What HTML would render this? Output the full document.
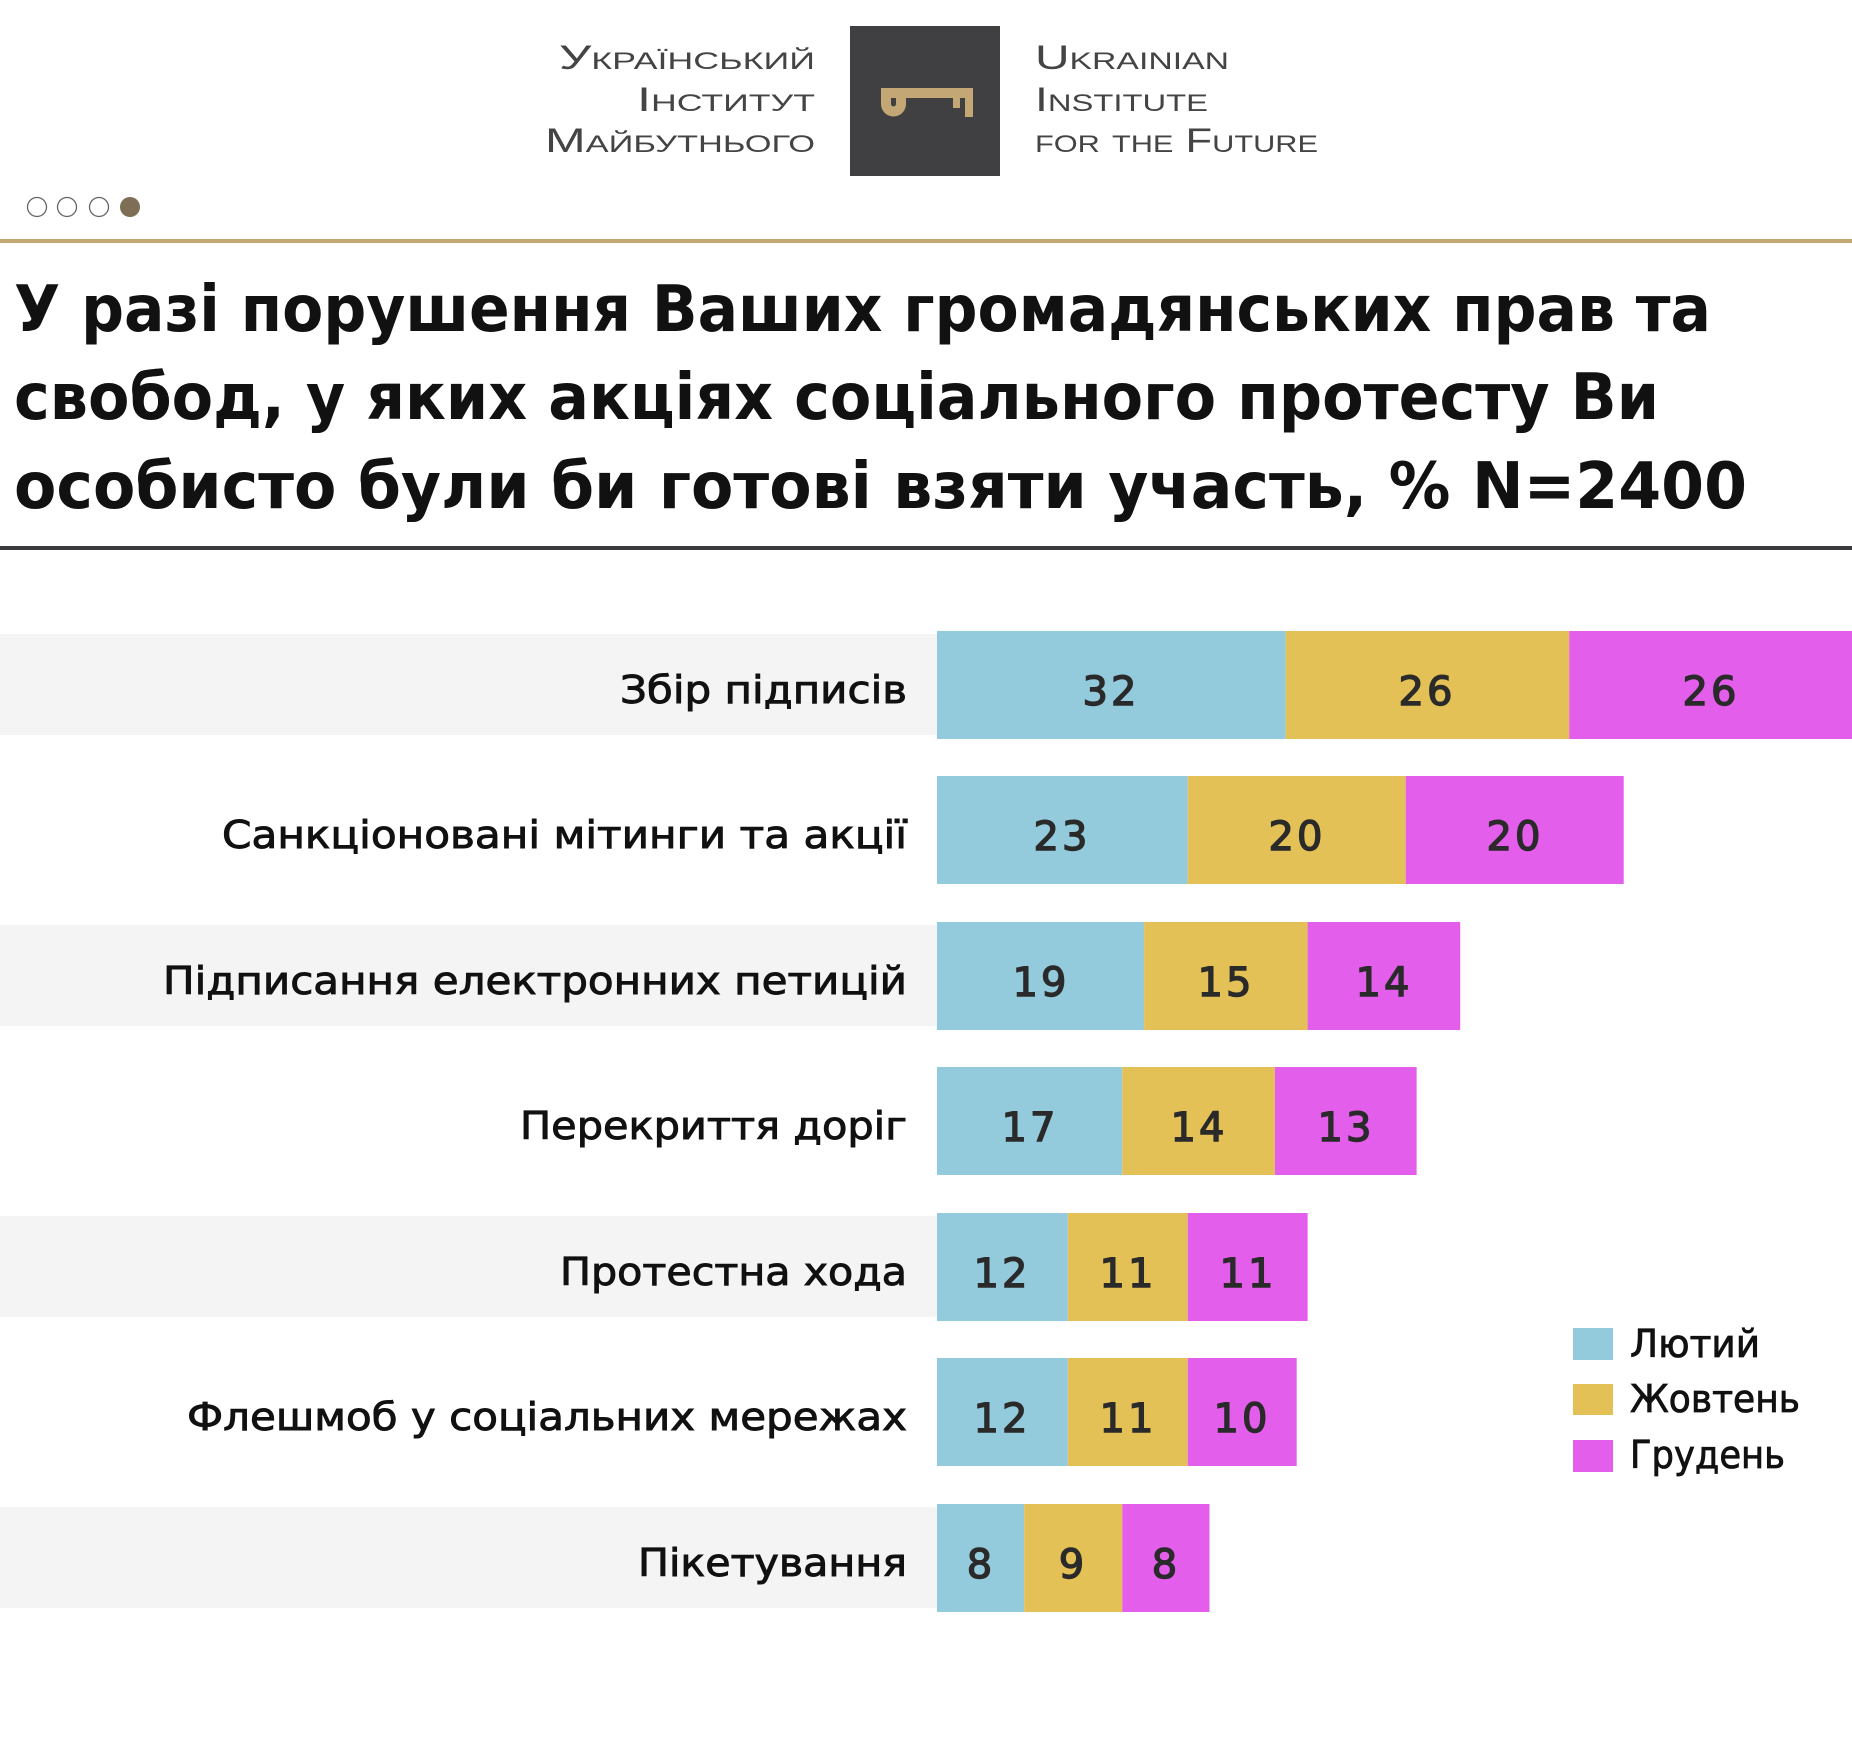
<!DOCTYPE html>
<html><head><meta charset="utf-8"><style>
html,body{margin:0;padding:0;background:#fff;}
svg{display:block;}
.lg{font-family:"Liberation Sans","DejaVu Sans",sans-serif;font-variant:small-caps;fill:#444;font-size:34px;}
.t{font-family:"DejaVu Sans","Liberation Sans",sans-serif;font-weight:bold;font-size:64px;fill:#111;}
.l{font-family:"DejaVu Sans","Liberation Sans",sans-serif;font-size:38px;fill:#111;stroke:#111;stroke-width:0.9px;}
.n{font-family:"DejaVu Sans","Liberation Sans",sans-serif;font-size:40px;fill:#2a2a2a;stroke:#2a2a2a;stroke-width:1.4px;letter-spacing:3px;}
.g{font-family:"DejaVu Sans","Liberation Sans",sans-serif;font-size:38px;fill:#111;stroke:#111;stroke-width:0.8px;}
</style></head><body>
<svg width="1852" height="1739" viewBox="0 0 1852 1739" xmlns="http://www.w3.org/2000/svg">
<rect x="850" y="26" width="150" height="150" fill="#404042"/>
<path d="M881 88 H973 V117 H965 V98 H960 V108 H953 V98 H906 V104 A12.5 12.5 0 0 1 881 104 Z M891 98 V104 A2.5 2.5 0 0 0 896 104 V98 Z" fill="#c3a774" fill-rule="evenodd"/>
<text class="lg" x="815" y="69" text-anchor="end" textLength="256" lengthAdjust="spacingAndGlyphs">Український</text>
<text class="lg" x="815" y="111" text-anchor="end" textLength="178" lengthAdjust="spacingAndGlyphs">Інститут</text>
<text class="lg" x="815" y="152" text-anchor="end" textLength="270" lengthAdjust="spacingAndGlyphs">Майбутнього</text>
<text class="lg" x="1035" y="69" textLength="194" lengthAdjust="spacingAndGlyphs">Ukrainian</text>
<text class="lg" x="1035" y="111" textLength="173" lengthAdjust="spacingAndGlyphs">Institute</text>
<text class="lg" x="1035" y="152" textLength="283" lengthAdjust="spacingAndGlyphs">for the Future</text>
<circle cx="37" cy="207" r="9.5" fill="#fff" stroke="#666" stroke-width="1.3"/>
<circle cx="67" cy="207" r="9.5" fill="#fff" stroke="#666" stroke-width="1.3"/>
<circle cx="99" cy="207" r="9.5" fill="#fff" stroke="#666" stroke-width="1.3"/>
<circle cx="130" cy="207" r="10" fill="#7d6e55"/>
<rect x="0" y="239" width="1852" height="4" fill="#c3a774"/>
<text class="t" x="14" y="331" textLength="1697" lengthAdjust="spacingAndGlyphs">У разі порушення Ваших громадянських прав та</text>
<text class="t" x="14" y="419" textLength="1645" lengthAdjust="spacingAndGlyphs">свобод, у яких акціях соціального протесту Ви</text>
<text class="t" x="14" y="508" textLength="1733" lengthAdjust="spacingAndGlyphs">особисто були би готові взяти участь, % N=2400</text>
<rect x="0" y="546" width="1852" height="4" fill="#3a3a3c"/>
<g>
<rect x="0" y="634" width="937" height="101" fill="#f4f4f4"/>
<rect x="0" y="925" width="937" height="101" fill="#f4f4f4"/>
<rect x="0" y="1216" width="937" height="101" fill="#f4f4f4"/>
<rect x="0" y="1507" width="937" height="101" fill="#f4f4f4"/>
</g>
<g>
<text class="l" x="907" y="703" text-anchor="end" textLength="287" lengthAdjust="spacingAndGlyphs">Збір підписів</text>
<text class="l" x="907" y="848" text-anchor="end" textLength="685" lengthAdjust="spacingAndGlyphs">Санкціоновані мітинги та акції</text>
<text class="l" x="907" y="994" text-anchor="end" textLength="744" lengthAdjust="spacingAndGlyphs">Підписання електронних петицій</text>
<text class="l" x="907" y="1139" text-anchor="end" textLength="387" lengthAdjust="spacingAndGlyphs">Перекриття доріг</text>
<text class="l" x="907" y="1285" text-anchor="end" textLength="347" lengthAdjust="spacingAndGlyphs">Протестна хода</text>
<text class="l" x="907" y="1430" text-anchor="end" textLength="720" lengthAdjust="spacingAndGlyphs">Флешмоб у соціальних мережах</text>
<text class="l" x="907" y="1576" text-anchor="end" textLength="269" lengthAdjust="spacingAndGlyphs">Пікетування</text>
</g>
<g>
<rect x="937" y="631" width="348.8" height="108" fill="#94cbdc"/><rect x="1285.8" y="631" width="283.4" height="108" fill="#e3c157"/><rect x="1569.2" y="631" width="283.4" height="108" fill="#e35eea"/>
<rect x="937" y="776" width="250.7" height="108" fill="#94cbdc"/><rect x="1187.7" y="776" width="218" height="108" fill="#e3c157"/><rect x="1405.7" y="776" width="218" height="108" fill="#e35eea"/>
<rect x="937" y="922" width="207.1" height="108" fill="#94cbdc"/><rect x="1144.1" y="922" width="163.5" height="108" fill="#e3c157"/><rect x="1307.6" y="922" width="152.6" height="108" fill="#e35eea"/>
<rect x="937" y="1067" width="185.3" height="108" fill="#94cbdc"/><rect x="1122.3" y="1067" width="152.6" height="108" fill="#e3c157"/><rect x="1274.9" y="1067" width="141.7" height="108" fill="#e35eea"/>
<rect x="937" y="1213" width="130.8" height="108" fill="#94cbdc"/><rect x="1067.8" y="1213" width="119.9" height="108" fill="#e3c157"/><rect x="1187.7" y="1213" width="119.9" height="108" fill="#e35eea"/>
<rect x="937" y="1358" width="130.8" height="108" fill="#94cbdc"/><rect x="1067.8" y="1358" width="119.9" height="108" fill="#e3c157"/><rect x="1187.7" y="1358" width="109" height="108" fill="#e35eea"/>
<rect x="937" y="1504" width="87.2" height="108" fill="#94cbdc"/><rect x="1024.2" y="1504" width="98.1" height="108" fill="#e3c157"/><rect x="1122.3" y="1504" width="87.2" height="108" fill="#e35eea"/>
</g>
<g class="n" text-anchor="middle">
<text x="1111" y="705">32</text><text x="1427" y="705">26</text><text x="1711" y="705">26</text>
<text x="1062" y="850">23</text><text x="1297" y="850">20</text><text x="1515" y="850">20</text>
<text x="1041" y="996">19</text><text x="1226" y="996">15</text><text x="1384" y="996">14</text>
<text x="1030" y="1141">17</text><text x="1199" y="1141">14</text><text x="1346" y="1141">13</text>
<text x="1002" y="1287">12</text><text x="1128" y="1287">11</text><text x="1248" y="1287">11</text>
<text x="1002" y="1432">12</text><text x="1128" y="1432">11</text><text x="1242" y="1432">10</text>
<text x="981" y="1578">8</text><text x="1073" y="1578">9</text><text x="1166" y="1578">8</text>
</g>
<rect x="1573" y="1328" width="40" height="32" fill="#94cbdc"/>
<rect x="1573" y="1384" width="40" height="31" fill="#e3c157"/>
<rect x="1573" y="1440" width="40" height="32" fill="#e35eea"/>
<text class="g" x="1630" y="1357" textLength="130" lengthAdjust="spacingAndGlyphs">Лютий</text>
<text class="g" x="1630" y="1412" textLength="170" lengthAdjust="spacingAndGlyphs">Жовтень</text>
<text class="g" x="1630" y="1468" textLength="155" lengthAdjust="spacingAndGlyphs">Грудень</text>
</svg>
</body></html>
